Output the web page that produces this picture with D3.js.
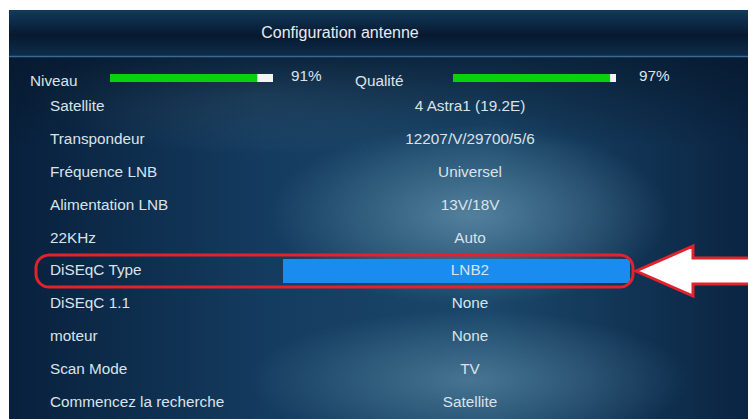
<!DOCTYPE html>
<html>
<head>
<meta charset="utf-8">
<script src="https://cdn.jsdelivr.net/npm/d3@7/dist/d3.min.js"></script>
<style>
  html, body { margin: 0; padding: 0; background: #fff; }
  svg { display: block; font-family: "Liberation Sans", Arial, sans-serif; }
</style>
</head>
<body>
<div id="chart"></div>
<script>
// menu content
const title = 'Configuration antenne';
const signalNames = ['Niveau', 'Qualité'];
const signalValues = [91, 97];
const rowLabels = ['Satellite', 'Transpondeur', 'Fréquence LNB', 'Alimentation LNB', '22KHz',
  'DiSEqC Type', 'DiSEqC 1.1', 'moteur', 'Scan Mode', 'Commencez la recherche'];
const rowValues = ['4 Astra1 (19.2E)', '12207/V/29700/5/6', 'Universel', '13V/18V', 'Auto',
  'LNB2', 'None', 'None', 'TV', 'Satellite'];
const selected = 'DiSEqC Type';

const W = 748, H = 419;
const svg = d3.select('#chart').append('svg').attr('width', W).attr('height', H);
const defs = svg.append('defs');

const bodyGrad = defs.append('linearGradient').attr('id', 'body').attr('x1', 0).attr('x2', 1).attr('y1', 0).attr('y2', 0);
bodyGrad.append('stop').attr('offset', '0%').attr('stop-color', '#08203c');
bodyGrad.append('stop').attr('offset', '35%').attr('stop-color', '#143c60');
bodyGrad.append('stop').attr('offset', '65%').attr('stop-color', '#1b476a');
bodyGrad.append('stop').attr('offset', '100%').attr('stop-color', '#0a2442');

const mist = defs.append('radialGradient').attr('id', 'mist').attr('cx', 0.5).attr('cy', 0.5).attr('r', 0.5);
mist.append('stop').attr('offset', '0%').attr('stop-color', '#5f8ea9').attr('stop-opacity', 0.8);
mist.append('stop').attr('offset', '100%').attr('stop-color', '#5f8ea9').attr('stop-opacity', 0);

const shade = defs.append('linearGradient').attr('id', 'shade').attr('x1', 0).attr('x2', 0).attr('y1', 0).attr('y2', 1);
shade.append('stop').attr('offset', '0%').attr('stop-color', '#06172b').attr('stop-opacity', 0.7);
shade.append('stop').attr('offset', '25%').attr('stop-color', '#06172b').attr('stop-opacity', 0);

const headGrad = defs.append('linearGradient').attr('id', 'head').attr('x1', 0).attr('x2', 0).attr('y1', 0).attr('y2', 1);
headGrad.append('stop').attr('offset', '0%').attr('stop-color', '#123a5c');
headGrad.append('stop').attr('offset', '55%').attr('stop-color', '#07192f');
headGrad.append('stop').attr('offset', '100%').attr('stop-color', '#0d2d4b');

// panel
const panelLeft = 9, panelTop = 10, headBottom = 56;
svg.append('rect').attr('x', panelLeft).attr('y', panelTop).attr('width', W - panelLeft).attr('height', H - panelTop).attr('fill', 'url(#body)');
svg.append('ellipse').attr('cx', 470).attr('cy', 215).attr('rx', 200).attr('ry', 90).attr('fill', 'url(#mist)');
svg.append('ellipse').attr('cx', 470).attr('cy', 380).attr('rx', 220).attr('ry', 70).attr('fill', 'url(#mist)').attr('opacity', 0.8);
svg.append('ellipse').attr('cx', 260).attr('cy', 95).attr('rx', 230).attr('ry', 60).attr('fill', 'url(#mist)').attr('opacity', 0.35);
svg.append('rect').attr('x', panelLeft).attr('y', headBottom).attr('width', W - panelLeft).attr('height', H - headBottom).attr('fill', 'url(#shade)');

svg.append('rect').attr('x', panelLeft).attr('y', panelTop).attr('width', W - panelLeft).attr('height', headBottom - panelTop).attr('fill', 'url(#head)');
svg.append('line').attr('x1', panelLeft).attr('x2', W).attr('y1', headBottom + 0.5).attr('y2', headBottom + 0.5)
  .attr('stroke', '#3a6a92').attr('stroke-width', 1.5);

svg.append('text').attr('x', 340).attr('y', 34).attr('text-anchor', 'middle').attr('dominant-baseline', 'middle')
  .attr('fill', '#e6ecf2').attr('font-size', 16).text(title);

const textColor = '#dbe3ea';
const fs = 15.3;

// signal bars
const barX = d3.scaleOrdinal().domain(signalNames).range([110, 453]);
const labelX = d3.scaleOrdinal().domain(signalNames).range([30, 355]);
const pct = d3.scaleLinear().domain([0, 100]).range([0, 163]);
const sigY = 78;

const sig = svg.append('g').selectAll('g').data(signalNames).join('g');
sig.append('text').attr('x', d => labelX(d)).attr('y', sigY + 4).attr('dominant-baseline', 'middle')
  .attr('fill', textColor).attr('font-size', fs).text(d => d);
sig.append('rect').attr('x', d => barX(d)).attr('y', sigY - 4).attr('width', pct(100)).attr('height', 8).attr('fill', '#f4f4f4');
sig.append('rect').attr('x', d => barX(d)).attr('y', sigY - 4).attr('width', (d, i) => pct(signalValues[i]) - 1)
  .attr('height', 8).attr('fill', '#0bd10b');
sig.append('text').attr('x', (d, i) => barX(d) + pct(100) + (i ? 23 : 18)).attr('y', sigY - 1).attr('dominant-baseline', 'middle')
  .attr('fill', textColor).attr('font-size', fs).text((d, i) => signalValues[i] + '%');

// menu rows
const y = d3.scaleBand().domain(rowLabels).range([91, 419]).paddingInner(0);
const valueX = 470;

const sel = y(selected);
svg.append('rect').attr('x', 283).attr('y', sel + 4).attr('width', 347).attr('height', 24).attr('fill', '#1a8cf0');
svg.append('rect').attr('x', 36).attr('y', sel).attr('width', 597).attr('height', 32).attr('rx', 13)
  .attr('fill', 'none').attr('stroke', '#e2232e').attr('stroke-width', 3);

const rows = svg.append('g').selectAll('g').data(rowLabels).join('g')
  .attr('transform', d => `translate(0,${y(d) + y.bandwidth() / 2})`);
rows.append('text').attr('x', 50).attr('dominant-baseline', 'middle').attr('fill', textColor)
  .attr('font-size', fs).text(d => d);
rows.append('text').attr('x', valueX).attr('text-anchor', 'middle').attr('dominant-baseline', 'middle')
  .attr('fill', textColor).attr('font-size', fs).text((d, i) => rowValues[i]);

// pointer arrow
const ay = sel + 16;
const arrow = d3.path();
arrow.moveTo(636, ay);
arrow.lineTo(693, ay - 25);
arrow.lineTo(693, ay - 13);
arrow.lineTo(752, ay - 13);
arrow.lineTo(752, ay + 13);
arrow.lineTo(693, ay + 13);
arrow.lineTo(693, ay + 25);
arrow.closePath();
svg.append('path').attr('d', arrow.toString()).attr('fill', '#ffffff').attr('stroke', '#e2232e')
  .attr('stroke-width', 3).attr('stroke-linejoin', 'miter');
</script>
</body>
</html>
